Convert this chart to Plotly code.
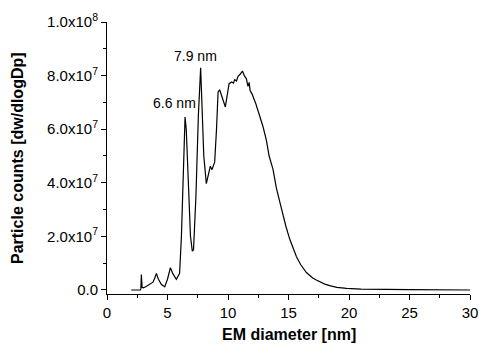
import plotly.graph_objects as go

diameter_nm = [2.0, 2.76, 2.80, 2.84, 2.9, 3.0, 3.2, 3.5, 3.8, 3.95, 4.08, 4.25, 4.5, 4.77, 5.0, 5.24,
               5.45, 5.73, 6.0, 6.15, 6.3, 6.45, 6.55, 6.7, 6.9, 7.05, 7.15, 7.35, 7.55, 7.74, 7.85,
               8.0, 8.21, 8.4, 8.54, 8.68, 8.9, 9.05, 9.18, 9.31, 9.5, 9.78, 10.09, 10.3, 10.45,
               10.55, 10.7, 10.83, 11.0, 11.19, 11.35, 11.52, 11.65, 11.75, 11.82, 12.0, 12.3,
               12.62, 12.89, 13.17, 13.4, 13.72, 14.0, 14.3, 14.55, 14.8, 15.1, 15.4, 15.65, 16.0,
               16.48, 17.0, 17.3, 18.0, 18.4, 19.0, 19.8, 21.0, 22.0, 25.0, 30.0]
counts_1e7 = [0, 0, 0.05, 0.58, 0.1, 0.08, 0.12, 0.19, 0.29, 0.45, 0.62, 0.4, 0.2, 0.12, 0.4, 0.83,
              0.6, 0.40, 0.62, 2.0, 4.5, 6.45, 6.0, 4.0, 2.0, 1.45, 1.5, 3.5, 6.5, 8.29, 7.0,
              5.0, 3.97, 4.4, 4.62, 4.49, 4.78, 6.0, 7.39, 7.47, 7.2, 6.83, 7.70, 7.76, 7.72,
              7.85, 7.80, 7.97, 8.05, 8.17, 8.0, 7.88, 7.6, 7.75, 7.45, 7.3, 6.95,
              6.5, 6.1, 5.59, 5.0, 4.5, 3.8, 3.25, 2.75, 2.35, 1.9, 1.52, 1.25, 0.95,
              0.65, 0.45, 0.37, 0.22, 0.16, 0.1, 0.06, 0.03, 0.02, 0.01, 0.0]
counts = [v * 1e7 for v in counts_1e7]

peak_labels = ["6.6 nm", "7.9 nm"]
label_x = [5.6, 7.3]
label_y = [6.96e7, 8.75e7]

y_ticks = [0, 2e7, 4e7, 6e7, 8e7, 1e8]
y_tick_text = ["0.0", "2.0x10<sup>7</sup>", "4.0x10<sup>7</sup>", "6.0x10<sup>7</sup>",
               "8.0x10<sup>7</sup>", "1.0x10<sup>8</sup>"]

FONT = "Liberation Sans, Arial"

fig = go.Figure()
fig.add_trace(go.Scatter(x=diameter_nm, y=counts, mode="lines",
                         line=dict(color="black", width=1.2), showlegend=False))
for t, x, y in zip(peak_labels, label_x, label_y):
    fig.add_annotation(x=x, y=y, text=t, showarrow=False,
                       font=dict(family=FONT, size=14, color="black"))

# axis titles placed in paper coordinates
fig.add_annotation(xref="paper", yref="paper", x=0.5, y=0, yshift=-30, yanchor="top",
                   text="<b>EM diameter [nm]</b>", showarrow=False,
                   font=dict(family=FONT, size=16, color="black"))
fig.add_annotation(xref="paper", yref="paper", x=0, xshift=-90, y=0.5, textangle=-90,
                   xanchor="center", text="<b>Particle counts [dw/dlogDp]</b>", showarrow=False,
                   font=dict(family=FONT, size=16, color="black"))

fig.update_layout(
    width=479, height=344,
    margin=dict(l=107, r=9, t=22, b=50),
    paper_bgcolor="white", plot_bgcolor="white",
    font=dict(family=FONT, size=15, color="black"),
    xaxis=dict(range=[0, 30], tickmode="array", tickvals=[0, 5, 10, 15, 20, 25, 30],
               ticks="outside", ticklen=5, tickwidth=1, tickcolor="black",
               tickfont=dict(size=15), automargin=False,
               minor=dict(dtick=2.5, ticks="outside", ticklen=3, tickcolor="black"),
               showline=True, linecolor="black", linewidth=1, showgrid=False, zeroline=False),
    yaxis=dict(range=[-1.5e6, 1e8], tickmode="array", tickvals=y_ticks, ticktext=y_tick_text,
               ticks="outside", ticklen=5, tickwidth=1, tickcolor="black",
               tickfont=dict(size=15), automargin=False,
               minor=dict(dtick=1e7, tick0=0, ticks="outside", ticklen=3, tickcolor="black"),
               showline=True, linecolor="black", linewidth=1, showgrid=False, zeroline=False),
)
fig.write_html("out.html")
